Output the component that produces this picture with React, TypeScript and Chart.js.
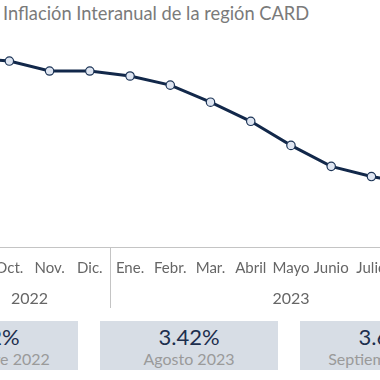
import React, { useEffect, useRef } from "react";
import { Chart, registerables } from "chart.js";

Chart.register(...registerables);

const months = ["Sept.", "Oct.", "Nov.", "Dic.", "Ene.", "Febr.", "Mar.", "Abril", "Mayo", "Junio", "Julio", "Agosto", "Sept."];
const years = ["2022", "2023"];
const yearSpans = [4, 9];
const inflation = [8.22, 8.1, 7.72, 7.72, 7.53, 7.18, 6.53, 5.8, 4.88, 4.08, 3.69, 3.42, 3.65];
const boxValues = ["8.22%", "3.42%", "3.65%"];
const boxLabels = ["Septiembre 2022", "Agosto 2023", "Septiembre 2023"];
const title = "Inflación Interanual de la región CARD";

const FONT = "Lato, 'Noto Sans', sans-serif";

const yearPlugin = {
  id: "yearGroups",
  afterDraw(chart: any) {
    const xs = chart.scales.x;
    const ctx = chart.ctx;
    const axisY = xs.top;
    ctx.save();
    ctx.font = `16px ${FONT}`;
    ctx.fillStyle = "#666666";
    ctx.textAlign = "center";
    ctx.textBaseline = "middle";
    ctx.strokeStyle = "#c4c4c4";
    ctx.lineWidth = 1;
    let start = 0;
    yearSpans.forEach((span, i) => {
      const a = xs.getPixelForValue(start);
      const b = xs.getPixelForValue(start + span - 1);
      ctx.fillText(years[i], (a + b) / 2, axisY + 52);
      if (i > 0) {
        const sx = Math.round((xs.getPixelForValue(start - 1) + a) / 2) + 0.5;
        ctx.beginPath();
        ctx.moveTo(sx, axisY);
        ctx.lineTo(sx, axisY + 61);
        ctx.stroke();
      }
      start += span;
    });
    ctx.restore();
  },
};

function LineChart() {
  const ref = useRef<HTMLCanvasElement>(null);
  useEffect(() => {
    if (!ref.current) return;
    const chart = new Chart(ref.current, {
      type: "line",
      data: {
        labels: months,
        datasets: [
          {
            data: inflation,
            borderColor: "#12284a",
            borderWidth: 3,
            pointRadius: 4.2,
            pointBorderWidth: 1.2,
            pointBackgroundColor: "#dfe6f2",
            pointBorderColor: "#1d3557",
            tension: 0,
          },
        ],
      },
      options: {
        responsive: false,
        animation: false,
        devicePixelRatio: 1,
        layout: { autoPadding: false, padding: { top: 7.5, left: 0, right: 0, bottom: 0 } },
        plugins: { legend: { display: false }, tooltip: { enabled: false }, title: { display: false } },
        scales: {
          x: {
            type: "category",
            offset: true,
            grid: { display: false, drawTicks: false },
            border: { display: true, color: "#c4c4c4", width: 1 },
            ticks: { color: "#666666", font: { family: FONT, size: 15 }, padding: 12, maxRotation: 0, autoSkip: false },
            afterFit: (scale: any) => {
              scale.height = 73;
              scale.paddingLeft = 0;
              scale.paddingRight = 0;
            },
          },
          y: {
            display: false,
            min: 1,
            max: 9,
          },
        },
      },
      plugins: [yearPlugin],
    });
    return () => chart.destroy();
  }, []);
  return (
    <canvas
      ref={ref}
      width={523}
      height={290}
      style={{ position: "absolute", left: -51, top: 30, width: 523, height: 290 }}
    />
  );
}

export default function App() {
  const boxLefts = [-100, 100, 300];
  return (
    <div
      style={{
        position: "fixed",
        left: 0,
        top: 0,
        width: 380,
        height: 380,
        overflow: "hidden",
        background: "#ffffff",
        fontFamily: FONT,
      }}
    >
      <div
        style={{
          position: "absolute",
          left: 3,
          top: 1,
          fontSize: 18.3,
          color: "#7a7a7a",
          whiteSpace: "nowrap",
          lineHeight: "24px",
        }}
      >
        {title}
      </div>
      <LineChart />
      {boxValues.map((v, i) => (
        <div
          key={i}
          style={{
            position: "absolute",
            left: boxLefts[i],
            top: 321,
            width: 178,
            height: 49,
            background: "#d7dde5",
            textAlign: "center",
          }}
        >
          <div style={{ position: "absolute", left: 0, right: 0, top: 3, fontSize: 22, lineHeight: "26px", color: "#1c2e4d" }}>{v}</div>
          <div style={{ position: "absolute", left: 0, right: 0, top: 28, fontSize: 16, lineHeight: "20px", color: "#9a9a9a" }}>{boxLabels[i]}</div>
        </div>
      ))}
    </div>
  );
}
